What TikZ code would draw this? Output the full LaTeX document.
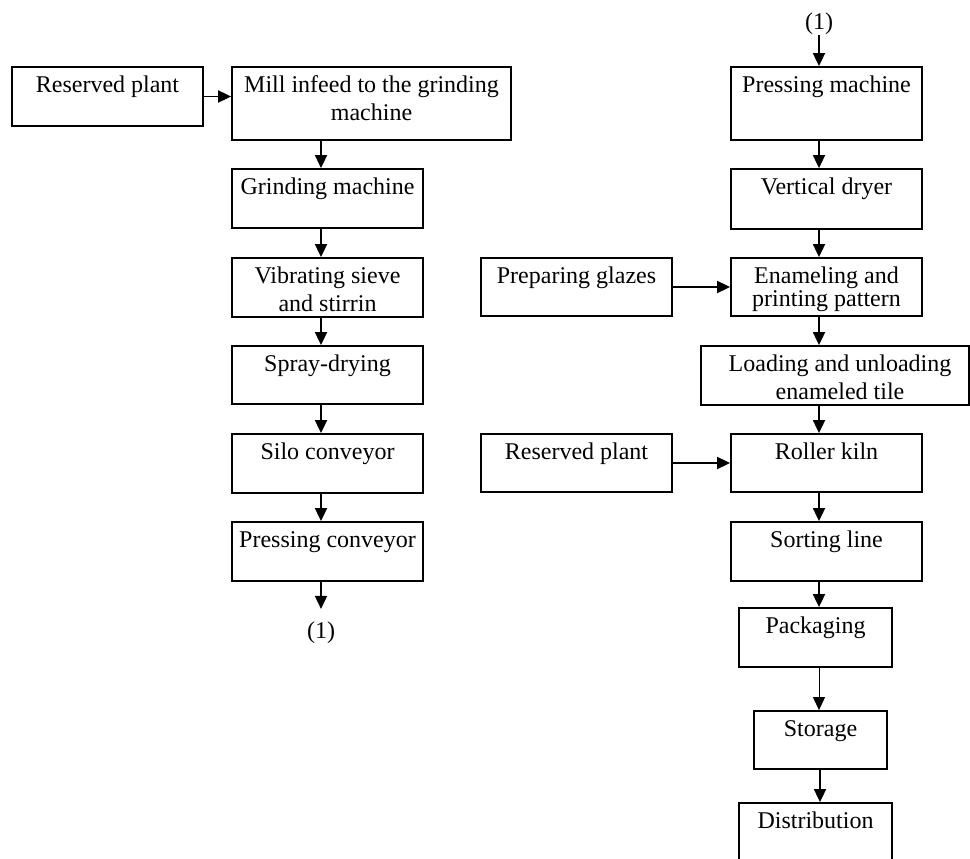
\documentclass[tikz,border=0pt]{standalone}
\usepackage{fontspec}
\setmainfont{Liberation Serif}
\usetikzlibrary{arrows.meta}
\begin{document}
\begin{tikzpicture}[x=1pt,y=-1pt,
 box/.style={draw, line width=1.8pt, inner sep=0pt, minimum width=191pt, minimum height=59pt},
 lab/.style={anchor=north, inner sep=0pt, yshift=-6.5pt, align=center, font=\fontsize{24}{28}\selectfont},
 txt/.style={inner sep=0pt, font=\fontsize{24}{28}\selectfont},
 arr/.style={line width=1.8pt, -{Triangle[length=13pt,width=12pt]}},
 thinarr/.style={line width=1pt, -{Triangle[length=13pt,width=12pt]}}]
\useasboundingbox (0,0) rectangle (970,859);
\clip (0,0) rectangle (970,859);
% left column
\node[box] (rp1) at (107.5,96.5) {};
\node[lab] (rp1t) at (rp1.north) {\strut Reserved plant};
\node[box, minimum width=279pt, minimum height=73pt] (mill) at (371.5,103.5) {};
\node[lab] (millt) at (mill.north) {\strut Mill infeed to the grinding\\machine};
\node[box] (grind) at (327.5,198.5) {};
\node[lab] (grindt) at (grind.north) {\strut Grinding machine};
\node[box] (vib) at (327.5,287.5) {};
\node[lab] (vibt) at (vib.north) {\strut Vibrating sieve\\and stirrin};
\node[box, minimum height=58pt] (spray) at (327.5,375) {};
\node[lab] (sprayt) at (spray.north) {\strut Spray-drying};
\node[box] (silo) at (327.5,463.5) {};
\node[lab] (silot) at (silo.north) {\strut Silo conveyor};
\node[box] (pconv) at (327.5,551.5) {};
\node[lab] (pconvt) at (pconv.north) {\strut Pressing conveyor};
\node[txt] (one1) at (321,633) {(1)};
% right column
\node[txt] (one2) at (819,24) {(1)};
\node[box, minimum height=73pt] (press) at (826.5,103.5) {};
\node[lab] (presst) at (press.north) {\strut Pressing machine};
\node[box, minimum height=60pt] (vdry) at (826.5,199) {};
\node[lab] (vdryt) at (vdry.north) {\strut Vertical dryer};
\node[box, minimum height=58pt] (enam) at (826.5,287) {};
\node[lab] (enamt) at (enam.north) {\strut Enameling and\\[-5pt]printing pattern};
\node[box, minimum height=58pt] (glaze) at (576.5,287) {};
\node[lab] (glazet) at (glaze.north) {\strut Preparing glazes};
\node[box, minimum width=268pt] (load) at (835,375.5) {};
\node[lab, xshift=5pt] (loadt) at (load.north) {\strut Loading and unloading\\enameled tile};
\node[box, minimum height=58pt] (kiln) at (826.5,463) {};
\node[lab] (kilnt) at (kiln.north) {\strut Roller kiln};
\node[box, minimum height=58pt] (rp2) at (576.5,463) {};
\node[lab] (rp2t) at (rp2.north) {\strut Reserved plant};
\node[box] (sort) at (826.5,551.5) {};
\node[lab] (sortt) at (sort.north) {\strut Sorting line};
\node[box, minimum width=153pt] (pack) at (815.5,637.5) {};
\node[lab] (packt) at (pack.north) {\strut Packaging};
\node[box, minimum width=133pt, minimum height=58pt] (stor) at (820.5,740) {};
\node[lab] (stort) at (stor.north) {\strut Storage};
\node[box, minimum width=153pt, minimum height=70pt] (dist) at (815.5,838) {};
\node[lab] (distt) at (dist.north) {\strut Distribution};
% connectors left
\draw[arr] (rp1.east) -- (rp1.east -| mill.west);
\draw[arr] (mill.south -| one1) -- (grind.north -| one1);
\draw[arr] (grind.south -| one1) -- (vib.north -| one1);
\draw[arr] (vib.south -| one1) -- (spray.north -| one1);
\draw[arr] (spray.south -| one1) -- (silo.north -| one1);
\draw[arr] (silo.south -| one1) -- (pconv.north -| one1);
\draw[arr, shorten >=13pt] (pconv.south -| one1) -- (one1.north);
% connectors right
\draw[arr] (one2.south) -- (press.north -| one2);
\draw[arr] (press.south -| one2) -- (vdry.north -| one2);
\draw[arr] (vdry.south -| one2) -- (enam.north -| one2);
\draw[arr] (glaze.east) -- (enam.west);
\draw[arr] (enam.south -| one2) -- (load.north -| one2);
\draw[arr] (load.south -| one2) -- (kiln.north -| one2);
\draw[arr] (rp2.east) -- (kiln.west);
\draw[arr] (kiln.south -| one2) -- (sort.north -| one2);
\draw[arr] (sort.south -| one2) -- (pack.north -| one2);
\draw[thinarr] (pack.south -| one2) -- (stor.north -| one2);
\draw[arr] ([xshift=1pt]stor.south -| one2) -- ([xshift=1pt]dist.north -| one2);
\end{tikzpicture}
\end{document}
